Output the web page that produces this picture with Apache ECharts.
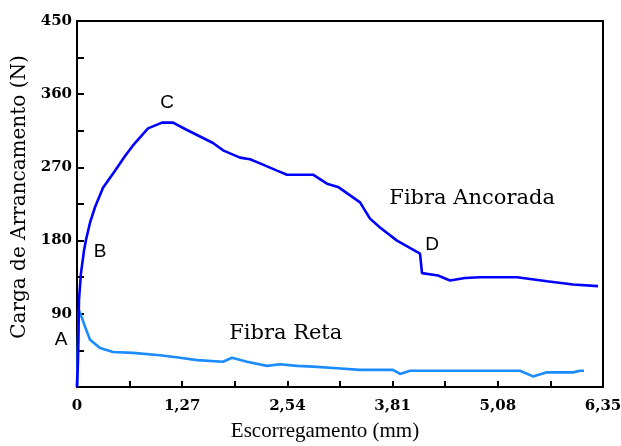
<!DOCTYPE html>
<html>
<head>
<meta charset="utf-8">
<script src="https://cdn.jsdelivr.net/npm/echarts@6/dist/echarts.min.js"></script>
<style>
  html, body { margin: 0; padding: 0; background: #fff; }
  #chart { width: 621px; height: 446px; }
</style>
</head>
<body>
<div id="chart"></div>
<script>
// Pull-out load (N) versus slip (mm) for the two fibre types
const ancoradaSlip = [0, 0.012, 0.018, 0.024, 0.048, 0.085, 0.109, 0.157, 0.217, 0.314, 0.459, 0.58, 0.676, 0.857, 1.026, 1.159, 1.328, 1.485, 1.642, 1.763, 1.968, 2.089, 2.209, 2.415, 2.535, 2.849, 3.018, 3.151, 3.417, 3.537, 3.658, 3.863, 4.141, 4.165, 4.358, 4.503, 4.684, 4.865, 5.312, 5.674, 5.988, 6.29];
const ancoradaLoad = [0, 33, 70, 107, 140, 168, 181, 202, 221, 245, 266, 284, 297, 318, 325, 325, 316, 308, 300, 291, 282, 280, 275, 266, 261, 261, 250, 246, 227, 207, 196, 180, 164, 140, 137, 131, 134, 135, 135, 130, 126, 124];

const retaSlip = [0, 0.012, 0.024, 0.06, 0.097, 0.157, 0.278, 0.435, 0.676, 1.002, 1.244, 1.449, 1.763, 1.871, 2.052, 2.294, 2.451, 2.656, 2.849, 3.139, 3.417, 3.815, 3.9, 4.02, 5.348, 5.505, 5.674, 5.988, 6.073, 6.121];
const retaLoad = [0, 58, 94, 85, 74, 58, 48, 43, 42, 39, 36, 33, 31, 36, 31, 26, 28, 26, 25, 23, 21, 21, 16, 20, 20, 13, 18, 18, 20, 20];

// Tick values
const xTickStep = 0.635;
const yTickStep = 45;

// Point letters and curve names placed in data coordinates
const noteText = ['A', 'B', 'C', 'D'];
const noteSlip = [-0.193, 0.278, 1.087, 4.286];
const noteLoad = [58, 166, 349, 175];
const curveNames = ['Fibra Ancorada', 'Fibra Reta'];
const curveNameSlip = [4.77, 2.52];
const curveNameLoad = [232, 66];

function zip(a, b) { return a.map((v, i) => [v, b[i]]); }

const serif = '"DejaVu Serif", "Liberation Serif", serif';
const narrowSerif = '"Liberation Serif", "DejaVu Serif", serif';
const sans = '"Liberation Sans", Arial, sans-serif';

const chart = echarts.init(document.getElementById('chart'));
chart.setOption({
  animation: false,
  backgroundColor: '#fff',
  grid: {
    left: 77, right: 18, top: 21, bottom: 59,
    outerBoundsMode: 'none', containLabel: false,
    show: true, borderColor: '#000', borderWidth: 2, backgroundColor: 'transparent'
  },
  xAxis: {
    type: 'value', min: 0, max: 6.35, interval: xTickStep,
    name: 'Escorregamento (mm)', nameLocation: 'middle', nameGap: 34,
    nameTextStyle: { fontFamily: narrowSerif, fontSize: 21, color: '#000', padding: [0, 30, 0, 0] },
    axisLine: { show: true, lineStyle: { color: '#000', width: 2 } },
    axisTick: { show: true, inside: true, length: 6, lineStyle: { color: '#000', width: 2 } },
    splitLine: { show: false },
    axisLabel: {
      show: true, margin: 12, color: '#000', fontFamily: serif, fontWeight: 'bold', fontSize: 15,
      showMaxLabel: true, showMinLabel: true,
      formatter: function (v) {
        const k = Math.round(v / xTickStep);
        if (k % 2 !== 0) return '';
        if (k === 0) return '0';
        return (k * xTickStep).toFixed(2).replace('.', ',');
      }
    }
  },
  yAxis: {
    type: 'value', min: 0, max: 450, interval: yTickStep,
    name: 'Carga de Arrancamento (N)', nameLocation: 'middle', nameGap: 37,
    nameTextStyle: { fontFamily: serif, fontSize: 20, color: '#000', padding: [0, 0, 0, 14] },
    axisLine: { show: true, lineStyle: { color: '#000', width: 2 } },
    axisTick: { show: true, inside: true, length: 7, lineStyle: { color: '#000', width: 2 } },
    splitLine: { show: false },
    axisLabel: {
      show: true, margin: 5, color: '#000', fontFamily: serif, fontWeight: 'bold', fontSize: 15,
      formatter: function (v) {
        const k = Math.round(v / yTickStep);
        return k % 2 === 0 && k !== 0 ? String(v) : '';
      }
    }
  },
  series: [
    {
      name: 'Fibra Reta', type: 'line', data: zip(retaSlip, retaLoad),
      showSymbol: false, symbol: 'none', smooth: false,
      lineStyle: { color: '#1a8cff', width: 2.6 }, z: 2
    },
    {
      name: 'Fibra Ancorada', type: 'line', data: zip(ancoradaSlip, ancoradaLoad),
      showSymbol: false, symbol: 'none', smooth: false,
      lineStyle: { color: '#0000ff', width: 2.6 }, z: 3
    }
  ]
});

// Annotations positioned through the chart's own coordinate conversion
const graphics = [];
noteText.forEach((t, i) => {
  const p = chart.convertToPixel({ gridIndex: 0 }, [noteSlip[i], noteLoad[i]]);
  graphics.push({
    type: 'text', x: p[0], y: p[1],
    style: { text: t, fill: '#000', font: '19px ' + sans, align: 'center', verticalAlign: 'middle' }
  });
});
curveNames.forEach((t, i) => {
  const p = chart.convertToPixel({ gridIndex: 0 }, [curveNameSlip[i], curveNameLoad[i]]);
  graphics.push({
    type: 'text', x: p[0], y: p[1],
    style: { text: t, fill: '#000', font: '21px ' + serif, align: 'center', verticalAlign: 'middle' }
  });
});
chart.setOption({ graphic: graphics });
</script>
</body>
</html>
